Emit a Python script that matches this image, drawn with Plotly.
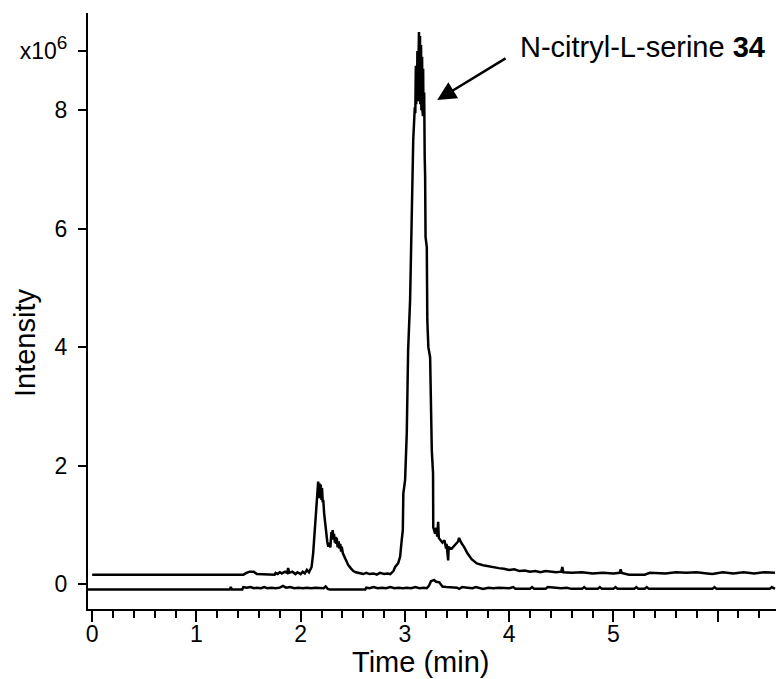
import plotly.graph_objects as go

# ---- data ----
t_upper = [0.00, 1.45, 1.48, 1.51, 1.55, 1.58, 1.75, 1.76, 1.78, 1.80, 1.82, 1.85, 1.87, 1.88, 1.89,
           1.92, 1.95, 1.97, 2.00, 2.02, 2.04, 2.06, 2.08, 2.09, 2.105, 2.12, 2.137, 2.15, 2.16, 2.168,
           2.175, 2.18, 2.187, 2.193, 2.20, 2.205, 2.212, 2.217, 2.225, 2.233, 2.245, 2.255, 2.265,
           2.275, 2.285, 2.295, 2.30, 2.307, 2.313, 2.32, 2.328, 2.335, 2.34, 2.346, 2.355, 2.365,
           2.372, 2.38, 2.388, 2.394, 2.405, 2.415, 2.426, 2.44, 2.457, 2.48, 2.505, 2.53, 2.57, 2.60,
           2.63, 2.66, 2.70, 2.73, 2.76, 2.80, 2.83, 2.86, 2.89, 2.906, 2.935, 2.954, 2.97, 2.98,
           2.985, 3.002, 3.018, 3.031, 3.05, 3.06, 3.066, 3.08, 3.095, 3.100, 3.105, 3.109, 3.112,
           3.116, 3.12, 3.124, 3.128, 3.132, 3.135, 3.138, 3.14, 3.143, 3.145, 3.148, 3.15, 3.153,
           3.155, 3.158, 3.16, 3.163, 3.165, 3.168, 3.17, 3.173, 3.175, 3.178, 3.18, 3.183, 3.185,
           3.19, 3.194, 3.198,
           3.21, 3.215, 3.225, 3.242, 3.258, 3.27, 3.272, 3.29, 3.30, 3.31, 3.319, 3.325, 3.34, 3.36,
           3.38, 3.395, 3.40, 3.41, 3.415, 3.42, 3.45, 3.48, 3.51, 3.52, 3.54, 3.57, 3.60, 3.64, 3.69,
           3.75, 3.80, 3.85, 3.90, 3.95, 4.00, 4.05, 4.10, 4.15, 4.20, 4.25, 4.30, 4.35, 4.40, 4.45,
           4.50, 4.51, 4.52, 4.60, 4.70, 4.80, 4.90, 5.00, 5.06, 5.07, 5.08, 5.15, 5.30, 5.35, 5.50,
           5.60, 5.70, 5.80, 5.90, 5.95, 6.05, 6.15, 6.25, 6.35, 6.45, 6.55]
i_upper = [0.16, 0.16, 0.19, 0.21, 0.21, 0.17, 0.16, 0.19, 0.17, 0.20, 0.18, 0.21, 0.19, 0.27, 0.19,
           0.21, 0.17, 0.20, 0.17, 0.21, 0.18, 0.24, 0.20, 0.23, 0.29, 0.52, 0.95, 1.20, 1.55, 1.73,
           1.45, 1.70, 1.50, 1.68, 1.42, 1.62, 1.38, 1.42, 1.20, 1.05, 0.85, 0.72, 0.63,
           0.70, 0.62, 0.88, 0.75, 0.91, 0.80, 0.85, 0.70, 0.80, 0.68, 0.78, 0.62, 0.72,
           0.60, 0.68, 0.55, 0.63, 0.52, 0.48, 0.46, 0.38, 0.32, 0.27, 0.22, 0.20, 0.18, 0.17,
           0.19, 0.17, 0.18, 0.16, 0.19, 0.17, 0.18, 0.17, 0.22, 0.29, 0.35, 0.46, 0.75, 0.91,
           1.53, 1.76, 2.55, 3.95, 4.80, 5.80, 6.77, 7.50, 8.05, 7.95, 8.75, 8.10, 8.40,
           8.20, 9.00, 8.15, 8.60, 8.30, 9.32, 8.20, 8.50, 8.25, 9.25, 8.10, 8.30, 8.20,
           9.10, 8.00, 8.40, 8.10, 8.90, 8.00, 8.20, 7.90, 8.70, 7.95, 8.10, 7.90, 8.30,
           7.20, 6.90, 5.86,
           5.69, 4.46, 4.00, 3.83, 2.26, 1.87, 0.96, 0.85, 0.95, 0.80, 1.05, 0.78, 0.74, 0.70,
           0.74, 0.60, 0.68, 0.55, 0.40, 0.62, 0.60, 0.66, 0.72, 0.78, 0.70, 0.62, 0.52, 0.42, 0.35,
           0.32, 0.30, 0.29, 0.27, 0.26, 0.24, 0.25, 0.22, 0.23, 0.21, 0.22, 0.20, 0.22, 0.21, 0.20,
           0.21, 0.29, 0.20, 0.19, 0.20, 0.18, 0.19, 0.18, 0.19, 0.25, 0.19, 0.16, 0.16, 0.19, 0.18,
           0.20, 0.19, 0.20, 0.18, 0.17, 0.20, 0.18, 0.20, 0.18, 0.20, 0.19]

t_lower = [-0.04, 1.32, 1.33, 1.34, 1.44, 1.45, 1.48, 1.52, 1.55, 1.58, 1.62, 1.65, 1.68, 1.72, 1.76,
           1.80, 1.83, 1.86, 1.90, 1.94, 1.98, 2.02, 2.06, 2.10, 2.14, 2.18, 2.22, 2.24, 2.26, 2.28,
           2.62, 2.63, 2.66, 2.70, 2.74, 2.78, 2.82, 2.86, 2.90, 2.94, 2.98, 3.02, 3.06, 3.10, 3.14,
           3.18, 3.21, 3.23, 3.25, 3.28, 3.30, 3.33, 3.36, 3.40, 3.45, 3.50, 3.52, 3.55, 3.60, 3.65,
           3.68, 3.72, 3.75, 3.80, 3.85, 3.90, 3.95, 4.00, 4.04, 4.06, 4.20, 4.22, 4.24, 4.35, 4.37,
           4.45, 4.50, 4.55, 4.60, 4.70, 4.72, 4.74, 4.85, 4.87, 4.89, 5.00, 5.02, 5.04, 5.20, 5.22,
           5.24, 5.30, 5.32, 5.34, 5.95, 5.97, 5.99, 6.50, 6.52, 6.55]
i_lower = [-0.09, -0.09, -0.05, -0.09, -0.09, -0.05, -0.06, -0.05, -0.07, -0.06, -0.07, -0.05, -0.07,
           -0.06, -0.07, -0.06, -0.03, -0.06, -0.05, -0.07, -0.06, -0.07, -0.06, -0.07, -0.06, -0.07,
           -0.07, -0.04, -0.08, -0.09, -0.09, -0.06, -0.07, -0.05, -0.07, -0.06, -0.07, -0.05, -0.07,
           -0.06, -0.07, -0.06, -0.07, -0.05, -0.07, -0.06, -0.07, -0.03, 0.05, 0.07, 0.04, 0.03,
           -0.04, -0.05, -0.06, -0.06, -0.08, -0.05, -0.06, -0.07, -0.05, -0.06, -0.08, -0.06, -0.07,
           -0.06, -0.07, -0.07, -0.05, -0.08, -0.08, -0.05, -0.08, -0.08, -0.05, -0.06, -0.07, -0.06,
           -0.08, -0.08, -0.05, -0.08, -0.08, -0.05, -0.08, -0.08, -0.05, -0.08, -0.08, -0.05, -0.08,
           -0.08, -0.05, -0.08, -0.08, -0.05, -0.08, -0.08, -0.05, -0.08]

x_tickvals = [0, 1, 2, 3, 4, 5, 6]
x_ticktext = ["0", "1", "2", "3", "4", "5", ""]
y_tickvals = [0, 2, 4, 6, 8, 9]
y_ticktext = ["0", "2", "4", "6", "8", "x10<sup><span style='font-size:19px'>6</span></sup>"]

label_text = "N-citryl-L-serine <b>34</b>"
x_title = "Time (min)"
y_title = "Intensity"

FONT = "Liberation Sans, Arial, sans-serif"

fig = go.Figure()
fig.add_trace(go.Scatter(x=t_upper, y=i_upper, mode="lines",
                         line=dict(color="black", width=2.5), showlegend=False))
fig.add_trace(go.Scatter(x=t_lower, y=i_lower, mode="lines",
                         line=dict(color="black", width=2.5), showlegend=False))

fig.update_layout(
    width=781, height=679,
    margin=dict(l=88, r=5, t=13, b=70),
    paper_bgcolor="white", plot_bgcolor="white",
    font=dict(family=FONT, color="black", size=23),
    xaxis=dict(range=[-0.04, 6.56], tickmode="array", tickvals=x_tickvals, ticktext=x_ticktext,
               ticks="outside", ticklen=11, tickwidth=2, tickcolor="black",
               showline=True, linewidth=2, linecolor="black", showgrid=False, zeroline=False,
               tickfont=dict(size=23), ticklabelstandoff=-8,
               minor=dict(tickmode="linear", tick0=0, dtick=0.2, ticks="outside", ticklen=7,
                          tickwidth=2, tickcolor="black", showgrid=False)),
    yaxis=dict(range=[-0.42, 9.64], tickmode="array", tickvals=y_tickvals, ticktext=y_ticktext,
               ticks="outside", ticklen=8, tickwidth=2, tickcolor="black",
               showline=True, linewidth=2, linecolor="black", showgrid=False, zeroline=False,
               tickfont=dict(size=23), ticklabelstandoff=6),
)

fig.add_annotation(x=3.31, y=8.17, ax=3.98, ay=8.89, xref="x", yref="y", axref="x", ayref="y",
                   text="", showarrow=True, arrowhead=2, arrowsize=1.5, arrowwidth=2.5,
                   arrowcolor="black")
fig.add_annotation(x=4.087, y=9.06, xref="x", yref="y", text=label_text, showarrow=False,
                   xanchor="left", yanchor="middle", font=dict(size=29, family=FONT))
fig.add_annotation(x=(420 - 88) / 688, y=(609 - 662) / 596, xref="paper", yref="paper",
                   text=x_title, showarrow=False, xanchor="center", yanchor="middle",
                   font=dict(size=29, family=FONT))
fig.add_annotation(x=(25 - 88) / 688, y=(609 - 343) / 596, xref="paper", yref="paper",
                   text=y_title, showarrow=False, xanchor="center", yanchor="middle",
                   textangle=-90, font=dict(size=29, family=FONT))

fig.write_html("out.html")
